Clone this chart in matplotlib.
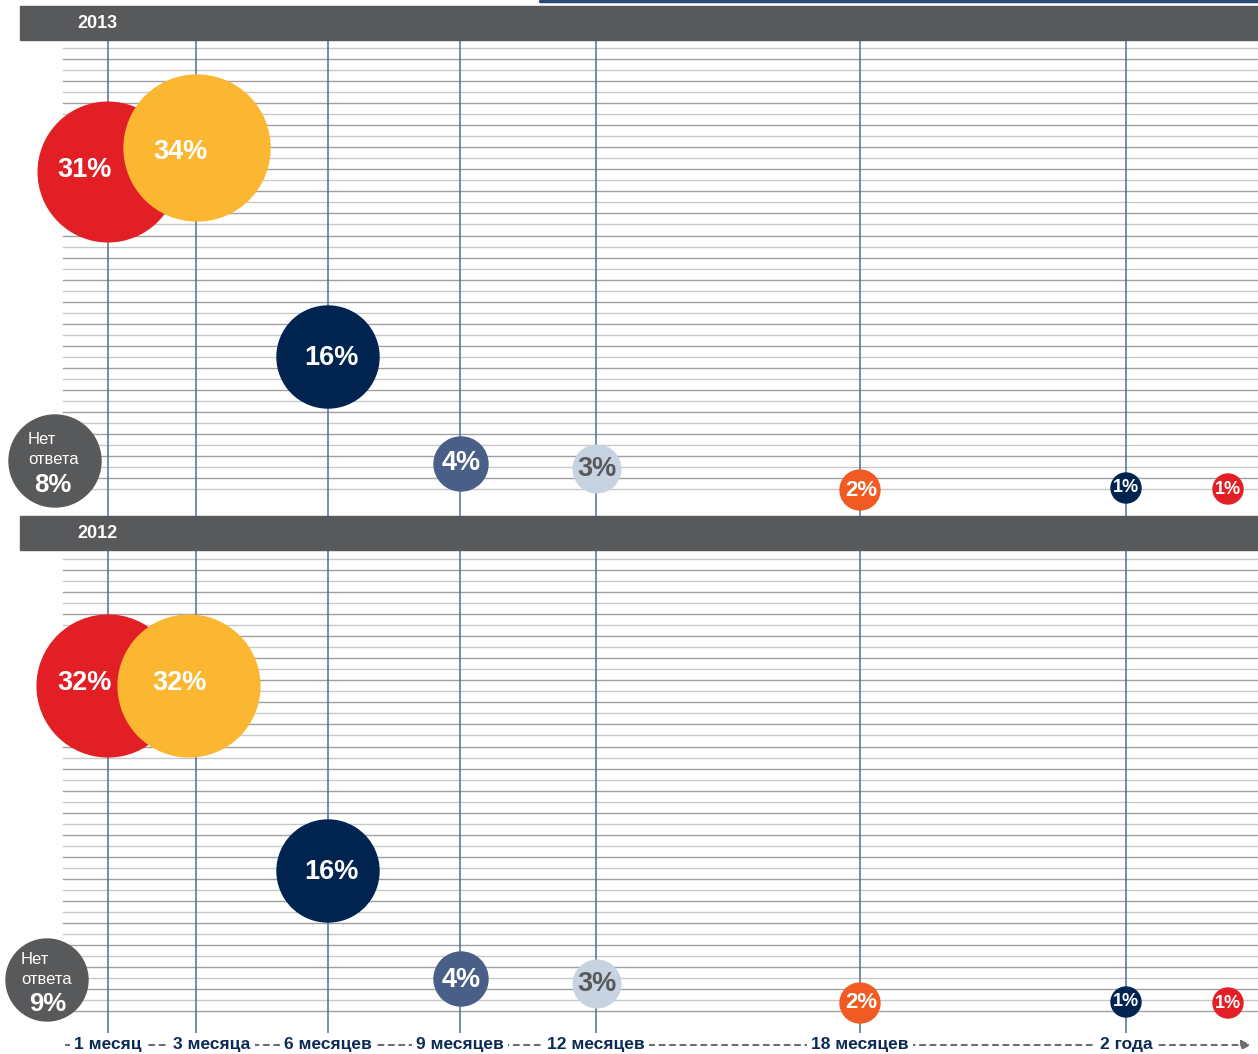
"""
Bubble chart: how long until ... (2013 vs 2012)
"""
import matplotlib.pyplot as plt
from matplotlib.patches import Circle, Rectangle
import numpy as np

plt.rcParams['font.family'] = ['Liberation Sans', 'DejaVu Sans']

# data
categories = ['1 месяц', '3 месяца', '6 месяцев', '9 месяцев', '12 месяцев',
              '18 месяцев', '2 года', 'более 2 лет']
years = ['2013', '2012']
values_2013 = [31, 34, 16, 4, 3, 2, 1, 1]
values_2012 = [32, 32, 16, 4, 3, 2, 1, 1]
no_answer = [8, 9]
no_answer_lines = ['Нет', 'ответа']

# layout (pixel-like units of the canvas)
W, H = 1258, 1054
cat_x = [108, 196, 328, 460, 596, 860, 1126, 1228]
label_cats = 7  # the last bubble has no axis label / line
panel_top = [40, 550]
panel_bottom = [516, 1033]
grid_first = [47, 558]
grid_last = [488, 1013]
bubble_dy = [[132, 108, 317, 424, 429, 450, 448, 449],
             [136, 136, 321, 429, 434, 453, 452, 453]]
bubble_dx = [[0, 1, 0, 1, 1, 0, 0, 0],
             [0, -7, 0, 1, 1, 0, 0, 0]]
text_dx = [[-23, -17, 3, 0, 0, 1, 0, 0],
           [-23, -9, 3, 0, 0, 1, 0, 0]]
text_dy = [[-2, 4, 1, -1, 0, 0, 0, 0],
           [-3, -3, 1, 1, 0, 0, 0, 0]]
noans_xy = [(55, 461), (47, 980)]
noans_r = [46, 41]
noans_text_x = [28, 21]
noans_pct_x = [53, 48]

colors = ['#e31f26', '#fbb731', '#00234f', '#4a5f87', '#c8d3e1',
          '#f15a22', '#00234f', '#e31f26']
text_colors = ['white', 'white', 'white', 'white', '#58595b',
               'white', 'white', 'white']
header_color = '#58595b'
vline_color = '#4f6d96'
label_color = '#0d2a55'


def radius(v):
    return 3 + 12 * np.sqrt(v)


def font_for(v):
    if v >= 3:
        return 19.5
    if v == 2:
        return 16
    return 13


fig = plt.figure(figsize=(W / 100, H / 100), dpi=100)
ax = fig.add_axes([0, 0, 1, 1])
ax.set_xlim(0, W)
ax.set_ylim(H, 0)
ax.set_aspect('equal')
ax.axis('off')

# thin line at the very top
ax.plot([540, W], [0.8, 0.8], color='#2b4a78', lw=2.5, solid_capstyle='round')

for p, (year, vals) in enumerate(zip(years, [values_2013, values_2012])):
    # grid lines (snapped to whole pixels so they stay crisp)
    ys = np.round(np.arange(grid_first[p], grid_last[p] + 1, 11.03)) + 0.5
    for i, y in enumerate(ys):
        ax.plot([63, W], [y, y], color='#c8c8c8' if i % 2 == 0 else '#a0a0a0',
                lw=1.0, zorder=1)
    # vertical lines
    for x in cat_x[:label_cats]:
        ax.plot([x, x], [panel_top[p], panel_bottom[p]], color=vline_color,
                lw=1.1, zorder=2)
    # header bar
    ax.add_patch(Rectangle((20, panel_top[p] - 34), W - 20, 34,
                           color=header_color, zorder=5))
    ax.text(97, panel_top[p] - 17, year, color='white', fontsize=13,
            fontweight='bold', ha='center', va='center', zorder=6)

    # bubbles
    for i, v in enumerate(vals):
        cx = cat_x[i] + bubble_dx[p][i]
        cy = panel_top[p] + bubble_dy[p][i]
        ax.add_patch(Circle((cx, cy), radius(v), color=colors[i], zorder=3 + i * 0.01))
        ax.text(cx + text_dx[p][i], cy + text_dy[p][i], f'{v}%',
                color=text_colors[i], fontsize=font_for(v), fontweight='bold',
                ha='center', va='center', zorder=4)

    # no answer bubble
    nx, ny = noans_xy[p]
    ax.add_patch(Circle((nx, ny), noans_r[p], color=header_color, zorder=3))
    ax.text(noans_text_x[p], ny - 21, no_answer_lines[0], color='white',
            fontsize=12, ha='left', va='center', zorder=4)
    ax.text(noans_text_x[p], ny - 1, no_answer_lines[1], color='white',
            fontsize=12, ha='left', va='center', zorder=4)
    ax.text(noans_pct_x[p], ny + 24, f'{no_answer[p]}%',
            color='white', fontsize=18.5, fontweight='bold',
            ha='center', va='center', zorder=4)

# bottom time axis
ax.annotate('', xy=(1254, 1045), xytext=(63, 1045),
            arrowprops=dict(arrowstyle='-|>', color='#6d6e71', lw=1.5,
                            linestyle=(0, (2.5, 2.5)), mutation_scale=14),
            zorder=1)
for x, c in zip(cat_x[:label_cats], categories[:label_cats]):
    lx = x + 16 if c == '3 месяца' else x
    ax.text(lx, 1045, c, color=label_color, fontsize=12.5, fontweight='bold',
            ha='center', va='center', zorder=3,
            bbox=dict(facecolor='white', edgecolor='none', pad=3))

fig.savefig('out.png', dpi=100)
